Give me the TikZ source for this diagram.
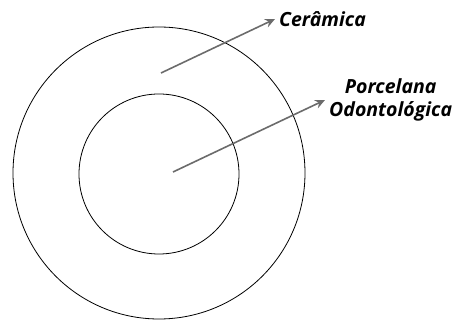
\documentclass[tikz,border=0pt]{standalone}
\usepackage{fontspec}
\setsansfont{Open Sans}
\usetikzlibrary{arrows.meta,positioning}
\definecolor{arrowgray}{gray}{0.42}
\tikzstyle{ring} = [
    circle,
    draw=black,
    line width=0.8pt,
    inner sep=0pt
]
\tikzstyle{tag} = [
    font=\sffamily\bfseries\itshape\fontsize{19.5}{23}\selectfont,
    inner xsep=4pt,
    inner ysep=0pt,
    align=center
]
\tikzstyle{pointer} = [
    -{Stealth[length=10pt,width=9pt,inset=3.5pt]},
    line width=1.6pt,
    draw=arrowgray
]
\begin{document}
\begin{tikzpicture}[x=1pt, y=-1pt]
        \useasboundingbox (0,0) rectangle (459,320);

        % Rings
        \node[ring, minimum size=292pt] (outer) at (159,173) {};
        \node[ring, minimum size=160pt] (inner) at (159,174) {};

        % Labels
        \node[tag, anchor=west] (ceramica) at (275,19) {Cerâmica};
        \node[tag, anchor=west] (porcelana) at (325,100) {Porcelana\\Odontológica};

        % Pointers
        \coordinate (ceramicstart) at (161,73);
        \coordinate (porcelanastart) at (173,172);
        \draw[pointer] (ceramicstart) -- (ceramica.west);
        \draw[pointer] (porcelanastart) -- (porcelana.west);
    \end{tikzpicture}
\end{document}
